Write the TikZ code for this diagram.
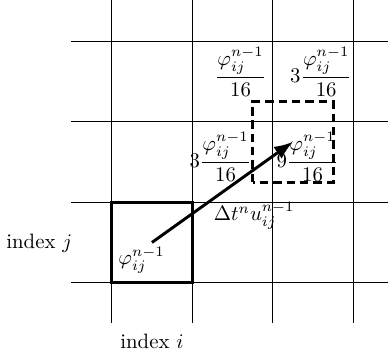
\documentclass[tikz,border=0pt]{standalone}
\usepackage{amsmath}
\usetikzlibrary{arrows.meta, calc}

\begin{document}
\begin{tikzpicture}[
    x=1.36cm, y=1.36cm,
    gridline/.style={line width=0.45pt, black},
    cellbox/.style={draw, line width=1.4pt},
    targetbox/.style={draw, line width=1.4pt, dash pattern=on 4pt off 2.4pt},
    arr/.style={-{Latex[length=9pt, width=7pt]}, line width=1.4pt},
    weight/.style={inner sep=1pt},
]
\useasboundingbox (-1.388,-0.861) rectangle (3.432,3.512);

% grid
\foreach \x in {0,...,3}
    \draw[gridline] (\x,-0.5) -- (\x,3.6);
\foreach \y in {0,...,3}
    \draw[gridline] (-0.5,\y) -- (3.6,\y);

% source cell and moved cell
\draw[cellbox] (0,0) rectangle (1,1);
\draw[targetbox] (1.75,1.25) rectangle (2.75,2.25);

\coordinate (src) at (0.5,0.5);
\coordinate (dst) at (2.25,1.75);
\draw[arr] (src) -- (dst);

\node (phi) at (0.37,0.28) {$\varphi_{ij}^{n-1}$};
\node (shift) at (1.77,0.83) {$\Delta t^n u_{ij}^{n-1}$};

% bilinear weights
\node[weight] (wnw) at (1.6,2.62) {$\dfrac{\varphi_{ij}^{n-1}}{16}$};
\node[weight] (wne) at (2.6,2.62) {$3\dfrac{\varphi_{ij}^{n-1}}{16}$};
\node[weight] (wsw) at (1.35,1.56) {$3\dfrac{\varphi_{ij}^{n-1}}{16}$};
\node[weight] (wse) at (2.43,1.56) {$9\dfrac{\varphi_{ij}^{n-1}}{16}$};

\node (idxj) at (-0.9,0.49) {index $j$};
\node (idxi) at (0.5,-0.73) {index $i$};
\end{tikzpicture}
\end{document}
